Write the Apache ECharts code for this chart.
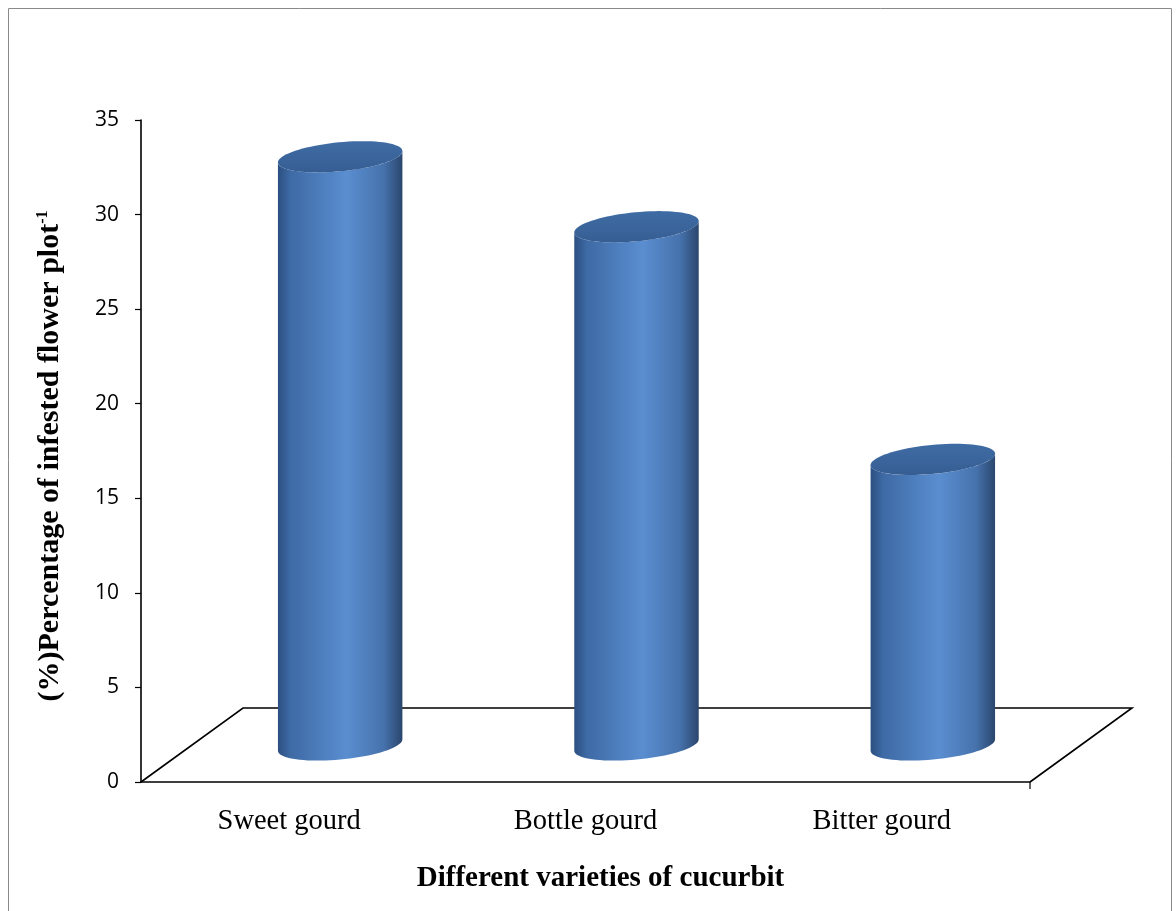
<!DOCTYPE html>
<html>
<head>
<meta charset="utf-8">
<script src="https://cdn.jsdelivr.net/npm/echarts@6/dist/echarts.min.js"></script>
<style>
  html, body { margin: 0; padding: 0; background: #fff; }
  #chart { width: 1176px; height: 911px; }
</style>
</head>
<body>
<div id="chart"></div>
<script>
  // data
  var categories = ['Sweet gourd', 'Bottle gourd', 'Bitter gourd'];
  var infested = [31.1, 27.4, 15.1];
  var yTicks = [0, 5, 10, 15, 20, 25, 30, 35];

  // 3d look: depth of floor in pixels, cylinder shape
  var DEPTH_X = 102, DEPTH_Y = 74;
  var RX = 62.5, RY = 14.5, TILT = -5.5 * Math.PI / 180;

  var chart = echarts.init(document.getElementById('chart'));

  function ellipsePoint(cx, cy, t) {
    var c = Math.cos(TILT), s = Math.sin(TILT);
    var ex = RX * Math.cos(t), ey = RY * Math.sin(t);
    return [cx + ex * c - ey * s, cy + ex * s + ey * c];
  }

  function arc(cx, cy, from, to, n) {
    var pts = [];
    for (var i = 0; i <= n; i++) {
      pts.push(ellipsePoint(cx, cy, from + (to - from) * i / n));
    }
    return pts;
  }

  function renderFloor(params, api) {
    var cs = params.coordSys;
    var x0 = cs.x, x1 = cs.x + cs.width, y0 = cs.y + cs.height;
    return {
      type: 'group',
      children: [{
        type: 'polyline',
        shape: { points: [[x0, y0], [x0 + DEPTH_X, y0 - DEPTH_Y], [x1 + DEPTH_X, y0 - DEPTH_Y], [x1, y0]] },
        style: { stroke: '#000', lineWidth: 1.6, fill: null }
      }, {
        type: 'line',
        shape: { x1: x1, y1: y0, x2: x1, y2: y0 + 7 },
        style: { stroke: '#000', lineWidth: 1.2 }
      }]
    };
  }

  function renderCylinder(params, api) {
    var base = api.coord([api.value(0), 0]);
    var top = api.coord([api.value(0), api.value(1)]);
    var cx = base[0] + DEPTH_X / 2;
    var by = base[1] - DEPTH_Y / 2;
    var ty = top[1] - DEPTH_Y / 2;
    // t where the ellipse reaches its x extremes
    var t0 = Math.atan2(-RY * Math.sin(TILT), RX * Math.cos(TILT));
    var body = arc(cx, ty, t0, t0 + Math.PI, 40).concat(arc(cx, by, t0 + Math.PI, t0, 40));
    var lid = arc(cx, ty, 0, Math.PI * 2, 80);
    return {
      type: 'group',
      children: [{
        type: 'polygon',
        shape: { points: body },
        style: {
          fill: {
            type: 'linear', x: 0, y: 0, x2: 1, y2: 0,
            colorStops: [
              { offset: 0, color: '#2c4f80' },
              { offset: 0.1, color: '#3e6aa5' },
              { offset: 0.55, color: '#5a8ed0' },
              { offset: 0.85, color: '#4672ac' },
              { offset: 1, color: '#2a466d' }
            ]
          }
        }
      }, {
        type: 'polygon',
        shape: { points: lid },
        style: {
          fill: {
            type: 'linear', x: 0, y: 0, x2: 0, y2: 1,
            colorStops: [
              { offset: 0, color: '#3f6ca4' },
              { offset: 1, color: '#365e93' }
            ]
          }
        }
      }]
    };
  }

  var option = {
    backgroundColor: '#fff',
    animation: false,
    graphic: [{
      type: 'rect',
      left: 6, top: 6,
      shape: { width: 1163, height: 960 },
      style: { fill: 'none', stroke: '#8a8a8a', lineWidth: 1 }
    }],
    grid: { left: 141, top: 120, width: 889, height: 662 },
    xAxis: {
      type: 'category',
      data: categories,
      name: 'Different varieties of cucurbit',
      nameLocation: 'middle',
      nameGap: 82,
      nameTextStyle: {
        fontFamily: 'Liberation Serif', fontWeight: 'bold', fontSize: 29, color: '#000',
        padding: [0, 0, 0, 30]
      },
      axisLine: { lineStyle: { color: '#000', width: 1.6 } },
      axisTick: { alignWithLabel: true, length: 7, lineStyle: { color: '#000', width: 1.2 } },
      axisLabel: { fontFamily: 'Liberation Serif', fontSize: 28.5, color: '#000', margin: 25 },
      splitLine: { show: false }
    },
    yAxis: {
      type: 'value',
      min: yTicks[0],
      max: yTicks[yTicks.length - 1],
      interval: yTicks[1] - yTicks[0],
      name: '{m|(%)Percentage of infested flower plot}{s|-1}',
      nameLocation: 'middle',
      nameGap: 76,
      nameTextStyle: {
        padding: [0, 10, 0, 0],
        rich: {
          m: { fontFamily: 'Liberation Serif', fontWeight: 'bold', fontSize: 30, color: '#000' },
          s: { fontFamily: 'Liberation Serif', fontWeight: 'bold', fontSize: 16, color: '#000', padding: [0, 0, 14, 0] }
        }
      },
      axisLine: { show: true, lineStyle: { color: '#000', width: 1.6 } },
      axisTick: { show: true, length: 6, lineStyle: { color: '#000', width: 1.2 } },
      axisLabel: { fontFamily: 'Open Sans', fontSize: 21, color: '#000', margin: 22 },
      splitLine: { show: false }
    },
    series: [{
      name: 'floor',
      type: 'custom',
      clip: false,
      silent: true,
      renderItem: renderFloor,
      data: [[0, 0]],
      z: 1
    }, {
      name: 'infested',
      type: 'custom',
      clip: false,
      renderItem: renderCylinder,
      data: infested.map(function (v, i) { return [i, v]; }),
      z: 2
    }]
  };

  chart.setOption(option);
</script>
</body>
</html>
